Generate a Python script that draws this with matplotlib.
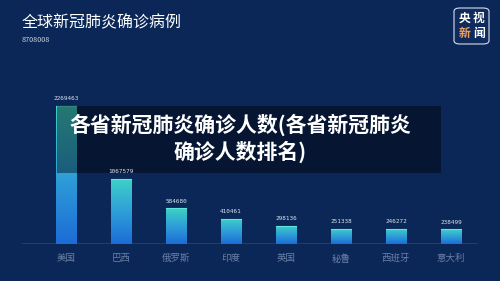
import matplotlib
matplotlib.use("Agg")
import matplotlib.pyplot as plt
import numpy as np
from matplotlib.patches import Rectangle, FancyBboxPatch
from matplotlib.colors import LinearSegmentedColormap

plt.rcParams['font.family'] = ['Noto Sans CJK SC', 'DejaVu Sans']

countries = ["美国", "巴西", "俄罗斯", "印度", "英国", "秘鲁", "西班牙", "意大利"]
cases = [2269463, 1067579, 584680, 410461, 298136, 251338, 246272, 238499]
title = "全球新冠肺炎确诊病例"
total_text = "8708008"
caption = "各省新冠肺炎确诊人数(各省新冠肺炎\n确诊人数排名)"

W, H = 500, 281
bg = "#0b2757"
fig = plt.figure(figsize=(W / 100, H / 100), dpi=100, facecolor=bg)

def px(x0, y0, x1, y1):
    return [x0 / W, 1 - y1 / H, (x1 - x0) / W, (y1 - y0) / H]

ax = fig.add_axes(px(22, 60, 478, 244))
ax.set_facecolor(bg)
ax.patch.set_alpha(0)
for s in ax.spines.values():
    s.set_visible(False)
ymax = 184 * 16400
x = np.arange(len(countries))
ax.set_xticks(x)
ax.set_xticklabels(countries, color="#6a7fa6", fontsize=6.8)
ax.set_yticks([])
ax.tick_params(axis='x', length=0, pad=7)
ax.axhline(0, color="#1f3d72", lw=1.5, zorder=1)

cmap = LinearSegmentedColormap.from_list("g", ["#1c6cd6", "#2f9fd8", "#3ed2c6"])
grad = np.linspace(0, 1, 256).reshape(-1, 1)
bw = 0.38
for xi, v in zip(x, cases):
    rect = Rectangle((xi - bw / 2, 0), bw, v, facecolor="none", edgecolor="none")
    ax.add_patch(rect)
    im = ax.imshow(grad, cmap=cmap, origin="lower", aspect="auto",
                   extent=[xi - bw / 2, xi + bw / 2, 0, v], zorder=2)
    im.set_clip_path(rect)
    ax.plot([xi - bw / 2, xi + bw / 2], [v, v], color="#5fe3da", lw=0.8, zorder=3)
    ax.text(xi, v + ymax * 0.038, f"{v}", ha="center", va="center",
            fontsize=4.3, color="#d6e2ee", family="DejaVu Sans Mono", zorder=7)
ax.set_xlim(-0.8, 7.49)
ax.set_ylim(0, ymax)

# Caption overlay (behind value labels)
box = Rectangle((57 / W, 1 - 173 / H), (441 - 57) / W, (173 - 106) / H,
                transform=fig.transFigure, facecolor="#000000", alpha=0.42,
                edgecolor="none", zorder=5, clip_on=False)
ax.add_patch(box)

# Title
fig.text(22 / W, 1 - 23 / H, title, color="white", fontsize=11.5, va="center", ha="left")
fig.text(22 / W, 1 - 40 / H, total_text, color="#c7d1e2", fontsize=5.2, va="center", ha="left")

# Logo
logo = FancyBboxPatch((454 / W, 1 - 44 / H), 35 / W, 36 / H,
                      boxstyle="round,pad=0,rounding_size=0.012",
                      transform=fig.transFigure, facecolor="#0e2b5c",
                      edgecolor="#d8dde8", lw=0.8)
fig.patches.append(logo)
fig.text(465 / W, 1 - 18 / H, "央", color="white", fontsize=8.5, weight="bold", ha="center", va="center")
fig.text(479 / W, 1 - 18 / H, "视", color="white", fontsize=8.5, weight="bold", ha="center", va="center")
fig.text(465 / W, 1 - 33 / H, "新", color="#f0a060", fontsize=8.5, weight="bold", ha="center", va="center")
fig.text(479 / W, 1 - 33 / H, "闻", color="white", fontsize=8.5, weight="bold", ha="center", va="center")

fig.text(240 / W, 1 - 138 / H, caption, color="white", fontsize=15, weight="bold",
         ha="center", va="center", linespacing=1.25, zorder=11)

fig.savefig("out.png", dpi=100, facecolor=bg)
